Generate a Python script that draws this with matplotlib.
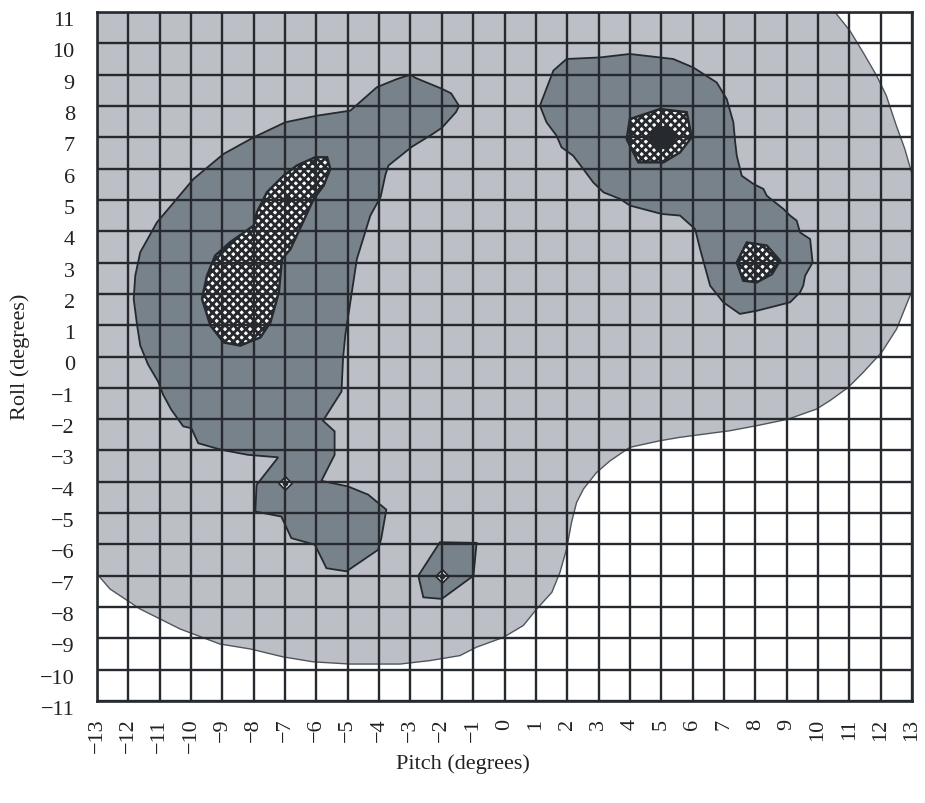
import numpy as np
import matplotlib
matplotlib.use("Agg")
import matplotlib.pyplot as plt
from matplotlib.patches import Polygon
import matplotlib.transforms as mtransforms

plt.rcParams['font.family'] = ['Liberation Serif', 'DejaVu Serif']
plt.rcParams['hatch.linewidth'] = 2.0

# axis ranges / ticks
x_ticks = list(range(-13, 14))
y_ticks = list(range(-11, 12))

# light grey outer region (pitch, roll)
light_region = [
    (-13.5, 11.5), (10.4, 11.3), (10.54, 11.0), (11.02, 10.4), (11.44, 9.71),
    (11.87, 8.97), (12.18, 8.33), (12.5, 7.37), (12.77, 6.63), (13.0, 5.83),
    (13.3, 4.0), (12.98, 2.05), (12.51, 0.88), (12.03, 0.13), (11.44, -0.51),
    (10.96, -0.99), (10.38, -1.41), (9.95, -1.68), (9.05, -2.0), (8.04, -2.21),
    (7.19, -2.37), (5.6, -2.58), (4.96, -2.69), (4.0, -2.9), (3.37, -3.33),
    (2.94, -3.7), (2.52, -4.23), (2.3, -4.66), (2.14, -5.29), (1.98, -6.15),
    (1.77, -6.89), (1.51, -7.53), (1.03, -8.06), (0.6, -8.59), (-0.04, -8.97),
    (-0.89, -9.28), (-1.42, -9.55), (-2.38, -9.71), (-3.33, -9.82), (-4.93, -9.82),
    (-6.1, -9.75), (-7.07, -9.59), (-8.1, -9.34), (-9.08, -9.18), (-10.35, -8.7),
    (-11.63, -8.06), (-12.59, -7.42), (-13.0, -6.94), (-13.5, -6.7),
]

# dark grey regions
dark_left = [
    (-3.0, 9.0), (-2.85, 8.9), (-2.0, 8.55), (-1.7, 8.4), (-1.45, 8.0), (-1.55, 7.8),
    (-2.0, 7.3), (-2.3, 7.1), (-2.95, 6.7), (-3.7, 6.1), (-3.8, 5.8), (-3.95, 5.1),
    (-4.28, 4.5), (-4.71, 3.11), (-5.08, 0.67), (-5.15, -0.05), (-5.2, -1.12),
    (-5.79, -2.05), (-5.42, -2.39), (-5.42, -3.14), (-5.84, -3.97), (-4.99, -4.15),
    (-4.35, -4.41), (-3.77, -4.89), (-3.93, -5.8), (-4.03, -6.17), (-5.04, -6.86),
    (-5.68, -6.76), (-6.05, -6.01), (-6.8, -5.8), (-7.12, -5.11), (-7.95, -4.95),
    (-7.91, -4.1), (-7.22, -3.22), (-8.18, -3.14), (-9.03, -2.98), (-9.77, -2.77),
    (-9.99, -2.29), (-10.25, -2.23), (-10.63, -1.7), (-10.89, -1.22), (-11.05, -0.8),
    (-11.37, -0.26), (-11.62, 0.35), (-11.72, 0.99), (-11.83, 1.84), (-11.78, 2.58),
    (-11.62, 3.33), (-11.09, 4.28), (-9.92, 5.67), (-8.96, 6.47), (-8.0, 7.0),
    (-6.99, 7.48), (-6.51, 7.58), (-5.98, 7.69), (-4.92, 7.85), (-4.07, 8.6),
    (-3.43, 8.86),
]
dark_right = [
    (1.13, 8.01), (1.56, 9.13), (1.98, 9.5), (3.05, 9.55), (4.0, 9.66), (5.38, 9.5),
    (6.02, 9.23), (6.77, 8.75), (7.09, 8.22), (7.3, 7.48), (7.36, 6.84), (7.41, 6.41),
    (7.57, 5.77), (7.94, 5.51), (8.26, 5.35), (8.37, 5.13), (8.9, 4.71), (9.11, 4.5),
    (9.32, 4.34), (9.43, 3.96), (9.75, 3.75), (9.83, 3.0), (9.59, 2.58), (9.53, 2.26),
    (9.43, 2.05), (9.11, 1.73), (8.68, 1.62), (8.05, 1.46), (7.51, 1.36), (6.98, 1.73),
    (6.56, 2.26), (6.24, 3.43), (6.08, 4.07), (5.6, 4.5), (5.02, 4.55), (4.0, 4.82),
    (3.69, 5.03), (3.16, 5.24), (2.83, 5.56), (2.51, 5.99), (2.19, 6.41), (1.82, 6.68),
    (1.66, 7.05), (1.34, 7.48),
]
dark_small = [
    (-2.06, -5.93), (-0.89, -5.95), (-0.99, -7.0), (-2.0, -7.74), (-2.59, -7.69),
    (-2.75, -7.0),
]

# hatched (peak) regions
peak_left = [
    (-6.04, 6.36), (-5.66, 6.36), (-5.56, 5.99), (-5.77, 5.46), (-6.09, 5.03),
    (-6.83, 3.43), (-7.1, 3.11), (-7.2, 2.05), (-7.47, 1.09), (-7.79, 0.61),
    (-8.43, 0.35), (-8.96, 0.45), (-9.38, 0.99), (-9.65, 1.84), (-9.49, 2.58),
    (-9.23, 3.22), (-8.75, 3.65), (-8.0, 4.18), (-7.9, 4.6), (-7.58, 5.24),
    (-7.05, 5.77), (-6.62, 6.1),
]
peak_top = [
    (4.0, 7.58), (4.96, 7.9), (5.81, 7.8), (5.97, 7.0), (5.6, 6.52), (5.07, 6.2),
    (4.27, 6.2), (3.9, 6.94),
]
peak_right = [
    (7.73, 3.64), (8.37, 3.54), (8.79, 3.06), (8.53, 2.63), (8.05, 2.37),
    (7.62, 2.42), (7.41, 3.0),
]
peak_tiny = [(-7.0, -4.04), (-2.0, -7.0)]

# black cores
core_top = [
    (4.75, 7.3), (5.2, 7.35), (5.5, 7.05), (5.3, 6.7), (4.85, 6.6), (4.6, 6.9),
]
core_left = [(-6.94, 5.03)]

LIGHT = '#bcbfc6'
DARK = '#78828a'
LINE = '#26292d'

fig = plt.figure(figsize=(9.25, 8.04), dpi=100)
ax = fig.add_axes([97 / 925, 1 - 702 / 804, 815 / 925, 689 / 804])
ax.set_xlim(-13, 13)
ax.set_ylim(-11, 11)

ax.add_patch(Polygon(light_region, closed=True, facecolor=LIGHT,
                     edgecolor='#4e565c', lw=1.0, zorder=1))
for poly in (dark_left, dark_right, dark_small):
    ax.add_patch(Polygon(poly, closed=True, facecolor=DARK,
                         edgecolor=LINE, lw=1.3, zorder=2))
for poly in (peak_left, peak_top, peak_right):
    ax.add_patch(Polygon(poly, closed=True, facecolor='white', hatch='xxxx',
                         edgecolor=LINE, lw=1.8, zorder=3))
for (px, py) in peak_tiny:
    ax.scatter([px], [py], s=45, marker='D', facecolor='white', edgecolor=LINE,
               linewidths=1.3, zorder=3)
    ax.scatter([px], [py], s=10, marker='o', color=LINE, zorder=4)
ax.add_patch(Polygon(core_top, closed=True, facecolor=LINE, edgecolor=LINE,
                     lw=1.0, zorder=4))
for (px, py) in core_left:
    ax.scatter([px], [py], s=25, marker='o', color=LINE, zorder=4)

# grid over everything
for xv in x_ticks:
    ax.axvline(xv, color=LINE, lw=1.7, zorder=5)
for yv in y_ticks:
    ax.axhline(yv, color=LINE, lw=1.7, zorder=5)
for sp in ax.spines.values():
    sp.set_color(LINE)
    sp.set_linewidth(1.9)
    sp.set_zorder(6)

ax.set_xticks(x_ticks)
ax.set_yticks(y_ticks)
ax.set_xticklabels([str(v).replace('-', '\u2212') for v in x_ticks], rotation=90)
ax.set_yticklabels([str(v).replace('-', '\u2212') for v in y_ticks])
ax.tick_params(axis='both', length=0, labelsize=16, colors='#222222')
ax.tick_params(axis='x', pad=12)
ax.tick_params(axis='y', pad=16)
off = mtransforms.ScaledTranslation(0, -6 / 100, fig.dpi_scale_trans)
for lab in ax.get_yticklabels():
    lab.set_transform(lab.get_transform() + off)

fig.text(463 / 925, 1 - 764 / 804, 'Pitch (degrees)', ha='center', va='center',
         fontsize=16, color='#222222')
fig.text(20 / 925, 1 - 357 / 804, 'Roll (degrees)', ha='center', va='center',
         rotation=90, fontsize=16, color='#222222')

fig.savefig('out.png', dpi=100)
